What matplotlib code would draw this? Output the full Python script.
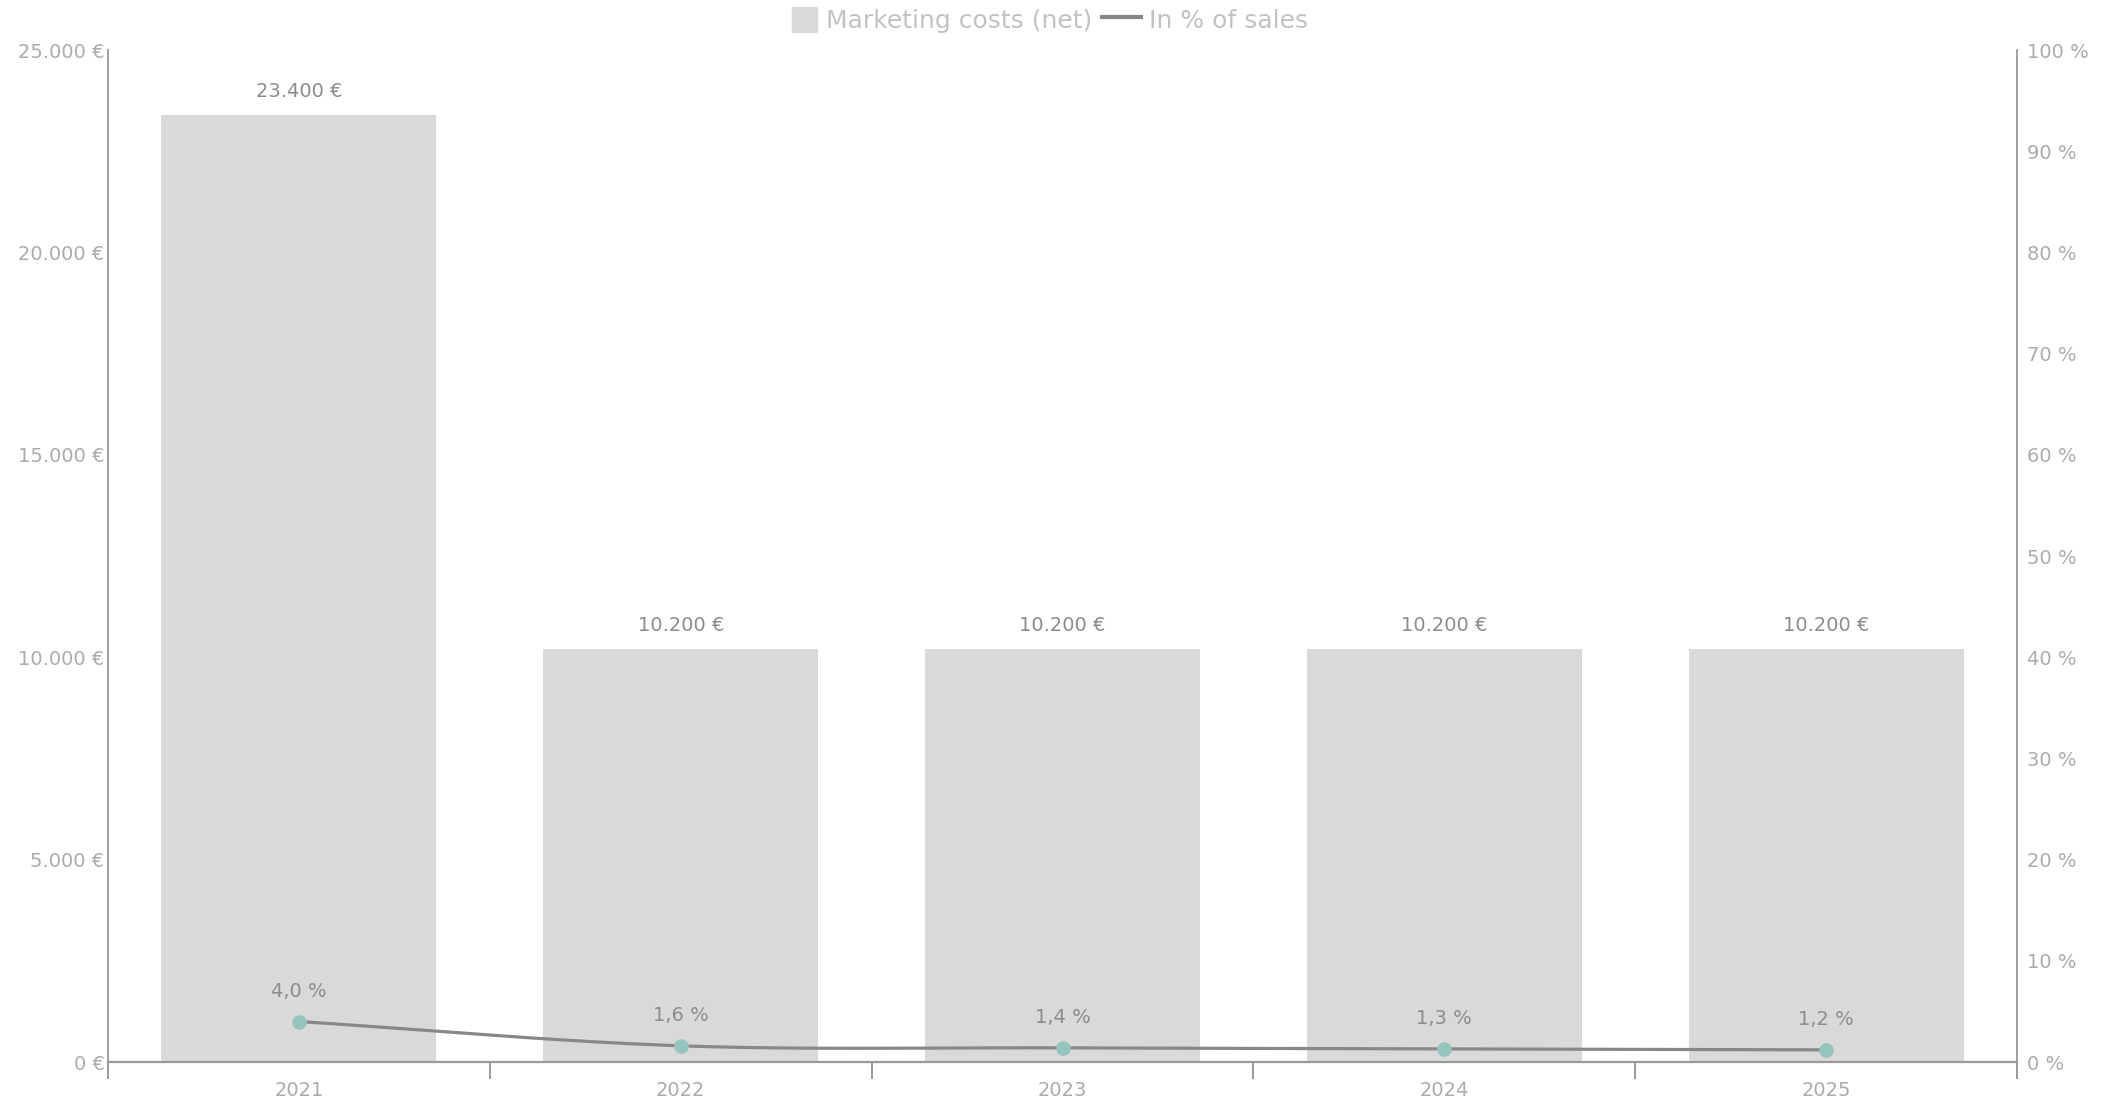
import numpy as np
import matplotlib
matplotlib.use("Agg")
import matplotlib.pyplot as plt
import matplotlib.patches as mpatches
from matplotlib.lines import Line2D
from matplotlib.legend_handler import HandlerPatch
from matplotlib.ticker import FuncFormatter, MultipleLocator, FixedLocator

# Data
years = ["2021", "2022", "2023", "2024", "2025"]
marketing_costs = [23400, 10200, 10200, 10200, 10200]   # EUR, net
share_of_sales = [4.0, 1.6, 1.4, 1.3, 1.2]              # percent of sales

BAR_COLOR = "#d9d9d9"
LINE_COLOR = "#888888"
MARKER_COLOR = "#96c4bf"
AXIS_COLOR = "#999999"
TICK_TEXT = "#ababab"
VALUE_TEXT = "#8c8c8c"
LEGEND_TEXT = "#c2c2c2"

plt.rcParams["font.family"] = ["DejaVu Sans"]


def de_thousands(v):
    return f"{int(round(v)):,}".replace(",", ".")


def de_decimal(v):
    return f"{v:.1f}".replace(".", ",")


def catmull_rom(xs, ys, n=60):
    """Smooth curve through the points (uniform Catmull-Rom, one-sided end tangents)."""
    xs = np.asarray(xs, float)
    ys = np.asarray(ys, float)
    m = np.empty_like(ys)
    m[1:-1] = (ys[2:] - ys[:-2]) / 2.0
    m[0] = ys[1] - ys[0]
    m[-1] = ys[-1] - ys[-2]
    px, py = [], []
    for i in range(len(xs) - 1):
        t = np.linspace(0, 1, n, endpoint=(i == len(xs) - 2))
        h00 = 2 * t**3 - 3 * t**2 + 1
        h10 = t**3 - 2 * t**2 + t
        h01 = -2 * t**3 + 3 * t**2
        h11 = t**3 - t**2
        px.append(xs[i] + t * (xs[i + 1] - xs[i]))
        py.append(h00 * ys[i] + h10 * m[i] + h01 * ys[i + 1] + h11 * m[i + 1])
    return np.concatenate(px), np.concatenate(py)


W, H = 2112, 1104
fig = plt.figure(figsize=(W / 100, H / 100), dpi=100)
left, right, top, bottom = 108, 2017, 50, 1062
ax = fig.add_axes([left / W, 1 - bottom / H, (right - left) / W, (bottom - top) / H])

x = np.arange(len(years))
bars = ax.bar(x, marketing_costs, width=0.72, color=BAR_COLOR, zorder=1)
ax.set_xlim(-0.5, len(years) - 0.5)
ax.set_ylim(0, 25000)
ax.yaxis.set_major_locator(MultipleLocator(5000))
ax.yaxis.set_major_formatter(FuncFormatter(lambda v, p: f"{de_thousands(v)} €"))

for xi, v in zip(x, marketing_costs):
    ax.annotate(f"{de_thousands(v)} €", (xi, v), xytext=(0, 17), textcoords="offset points",
                ha="center", va="center", fontsize=14, color=VALUE_TEXT)

# Category ticks: labels at centres, tick marks at category boundaries
ax.set_xticks(x)
ax.set_xticklabels(years)
ax.xaxis.set_minor_locator(FixedLocator(np.arange(-0.5, len(years), 1.0)))
ax.tick_params(axis="x", which="major", length=0, pad=14, labelsize=14, labelcolor=TICK_TEXT)
ax.tick_params(axis="x", which="minor", length=12, width=1.4, color=AXIS_COLOR, direction="out")
ax.tick_params(axis="y", length=0, pad=2.5, labelsize=14, labelcolor=TICK_TEXT)

for side in ("top", "right"):
    ax.spines[side].set_visible(False)
ax.spines["left"].set_color(AXIS_COLOR)
ax.spines["left"].set_linewidth(1.3)
ax.spines["bottom"].set_color(AXIS_COLOR)
ax.spines["bottom"].set_linewidth(1.6)

# Secondary axis for the percentage line
ax2 = ax.twinx()
ax2.set_ylim(0, 100)
ax2.yaxis.set_major_locator(MultipleLocator(10))
ax2.yaxis.set_major_formatter(FuncFormatter(lambda v, p: f"{int(v)} %"))
ax2.tick_params(axis="y", length=0, pad=7, labelsize=14, labelcolor=TICK_TEXT)
for side in ("top", "left", "bottom"):
    ax2.spines[side].set_visible(False)
ax2.spines["right"].set_color(AXIS_COLOR)
ax2.spines["right"].set_linewidth(1.3)

cx, cy = catmull_rom(x, share_of_sales)
ax2.plot(cx, cy, color=LINE_COLOR, lw=2.3, solid_capstyle="round", zorder=3)
ax2.plot(x, share_of_sales, ls="none", marker="o", ms=9.5, mfc=MARKER_COLOR,
         mec=MARKER_COLOR, zorder=4)
for xi, v in zip(x, share_of_sales):
    ax2.annotate(f"{de_decimal(v)} %", (xi, v), xytext=(0, 21.5), textcoords="offset points",
                 ha="center", va="center", fontsize=14, color=VALUE_TEXT)


# Legend with a square swatch for the bars
def square_patch(legend, orig_handle, xdescent, ydescent, width, height, fontsize):
    s = height
    return mpatches.Rectangle((width - s - xdescent, -ydescent), s, s)


handles = [mpatches.Patch(color=BAR_COLOR, label="Marketing costs (net)"),
           Line2D([], [], color=LINE_COLOR, lw=3, label="In % of sales")]
leg = fig.legend(handles=handles, loc="center", bbox_to_anchor=(0.494, 0.982), ncol=2,
                 frameon=False, fontsize=18, handlelength=1.55, handleheight=1.15,
                 handletextpad=0.35, columnspacing=0.4, borderaxespad=0,
                 handler_map={mpatches.Patch: HandlerPatch(patch_func=square_patch)})
for t in leg.get_texts():
    t.set_color(LEGEND_TEXT)

fig.savefig("out.png", dpi=100)
